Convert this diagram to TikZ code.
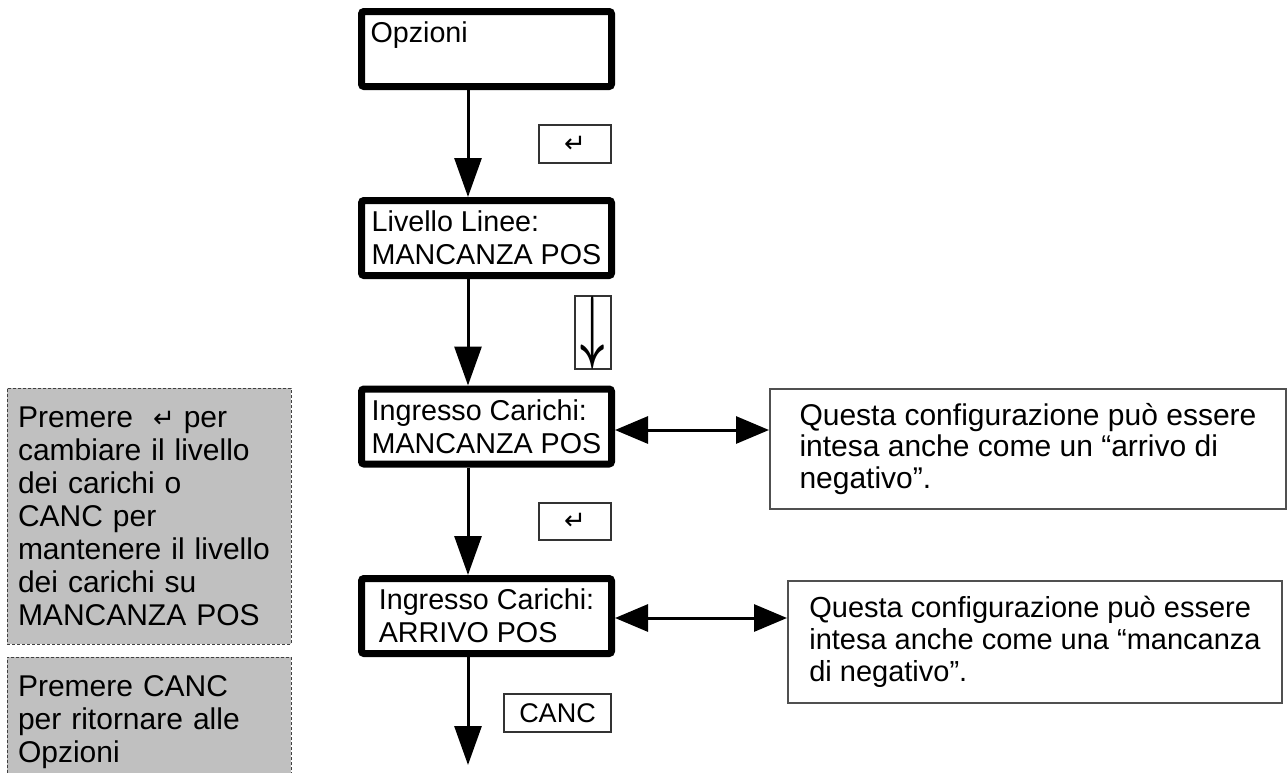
\documentclass[tikz,border=0pt]{standalone}
\usepackage{graphicx}
\usepackage{fontspec}
\setmainfont{Liberation Sans}
\newfontfamily\dejavu{DejaVu Sans}
\usetikzlibrary{arrows.meta}
\definecolor{boxgray}{RGB}{192,192,192}
\definecolor{edgegray}{RGB}{80,80,80}
\newcommand{\retsym}{{\dejavu\fontsize{26pt}{26pt}\selectfont ↵}}
\begin{document}
\begin{tikzpicture}[x=1pt,y=-1pt,
  thickbox/.style={draw, line width=7pt, rounded corners=2.5pt, minimum width=250pt, minimum height=75pt, align=left, inner sep=0pt, font=\fontsize{28.7pt}{33pt}\selectfont},
  keybox/.style={draw=black!80, line width=1.3pt, inner sep=0pt, font=\fontsize{27pt}{30pt}\selectfont},
  notebox/.style={draw=black!75, dash pattern=on 3pt off 2pt, line width=1pt, fill=boxgray, minimum width=284pt, inner xsep=11pt, inner ysep=0pt, text width=262pt, align=left, font=\fontsize{30pt}{33pt}\selectfont},
  infobox/.style={draw=edgegray, line width=2pt, align=left, inner sep=0pt},
  varrow/.style={line width=3pt, -{Triangle[length=39pt,width=27pt]}},
  harrow/.style={line width=3pt, {Triangle[length=33pt,width=27pt]}-{Triangle[length=33pt,width=27pt]}},
]
\useasboundingbox (0,0) rectangle (1288,772);

\node[thickbox, text width=232pt] (O) at (486.5,49) {Opzioni\\\mbox{}};
\node[thickbox] (L) at (486.5,238) {Livello Linee:\\MANCANZA POS};
\node[thickbox] (I1) at (486.5,426.5) {Ingresso Carichi:\\MANCANZA POS};
\node[thickbox] (I2) at (486.5,616) {Ingresso Carichi:\\ARRIVO POS};

\node[keybox, minimum width=72pt, minimum height=38pt] (k1) at (575,144) {\retsym};
\node[keybox, minimum width=36pt, minimum height=39pt] (kd) at (593,332.5) {\raisebox{-4pt}{\boldmath\scalebox{1.7}[3.3]{$\downarrow$}}};
\node[keybox, minimum width=72pt, minimum height=37pt] (k2) at (575,521.5) {\retsym};
\node[keybox, minimum width=107pt, minimum height=38pt] (kc) at (557.5,713) {CANC};

\node[notebox, minimum height=256pt] (g1) at (149,516) {Premere\hspace{20pt}\retsym\hspace{9pt}per\\cambiare il livello\\dei carichi o\\CANC per\\mantenere il livello\\dei carichi su\\MANCANZA POS};
\node[notebox, minimum height=129.4pt] (g2) at (149,721.7) {Premere CANC\\per ritornare alle\\Opzioni};

\node[infobox, minimum width=516pt, minimum height=120pt, font=\fontsize{30pt}{31.5pt}\selectfont] (R1) at (1028,449) {Questa configurazione può essere\\intesa anche come un “arrivo di\\negativo”.};
\node[infobox, minimum width=494pt, minimum height=122pt, font=\fontsize{29pt}{32pt}\selectfont] (R2) at (1035,642) {Questa configurazione può essere\\intesa anche come una “mancanza\\di negativo”.};

\coordinate (ax) at (468,0);
\coordinate (end) at (468,765);
\draw[varrow] (O.south -| ax) -- (L.north -| ax);
\draw[varrow] (L.south -| ax) -- (I1.north -| ax);
\draw[varrow] (I1.south -| ax) -- (I2.north -| ax);
\draw[varrow] (I2.south -| ax) -- (end);
\draw[harrow] ([yshift=-3.5pt]I1.east) -- ([yshift=-3.5pt]I1.east -| R1.west);
\draw[harrow] ([yshift=-2pt]I2.east) -- ([yshift=-2pt]I2.east -| R2.west);
\end{tikzpicture}
\end{document}
